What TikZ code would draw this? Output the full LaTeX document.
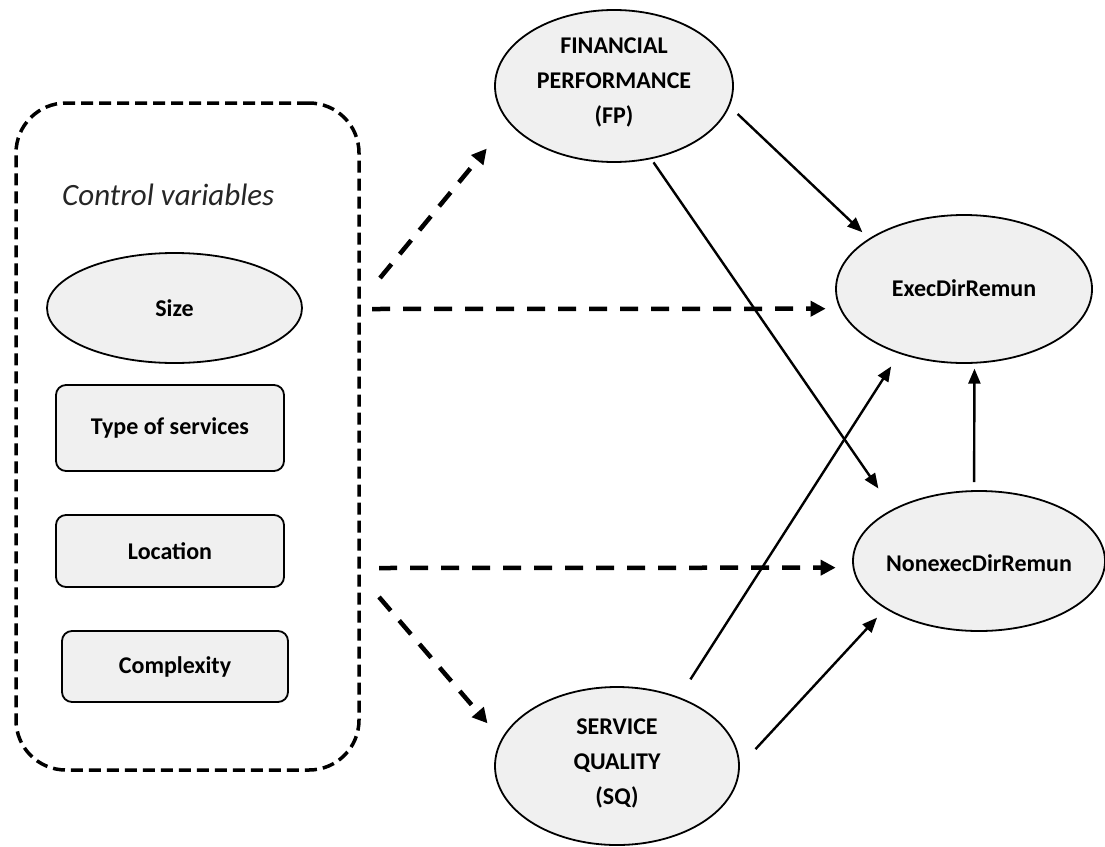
\documentclass[tikz,border=0pt]{standalone}
\usepackage{fontspec}
\setmainfont{Carlito}
\usetikzlibrary{shapes.geometric,arrows.meta}
\begin{document}
\begin{tikzpicture}[x=1pt,y=-1pt,
  ell/.style={ellipse,draw,line width=1.8pt,fill=gray!12,inner sep=0pt},
  box/.style={rectangle,rounded corners=10pt,draw,line width=1.8pt,fill=gray!12,inner sep=0pt,minimum width=228pt,font=\fontsize{24}{35}\selectfont\bfseries},
  lbl/.style={font=\fontsize{24}{35}\selectfont\bfseries,align=center,inner sep=0pt},
  solidarr/.style={line width=2.4pt,-{Triangle[length=15pt,width=12pt]}},
  dasharr/.style={line width=4.5pt,dash pattern=on 18pt off 13pt,-{Triangle[length=15pt,width=15pt]}},
]
\useasboundingbox (0,0) rectangle (1105,846);

% control variables frame
\node[draw,line width=3.5pt,dash pattern=on 12pt off 6pt,rounded corners=50pt,
      minimum width=343pt,minimum height=667pt,inner sep=0pt] (ctrl) at (187.5,436.5) {};
\node[font=\fontsize{31}{36}\selectfont\itshape,text=black!85,anchor=base west,inner sep=0pt] (cv) at (62,205) {Control variables};

\node[ell,minimum width=255pt,minimum height=110pt] (size) at (174.5,308) {};
\node[lbl] (sizet) at (size.center) {Size};
\node[box,minimum height=86pt] (type) at (170,428) {Type of services};
\node[box,minimum height=72pt] (loc) at (170,551) {Location};
\node[box,minimum width=226pt,minimum height=71pt] (cplx) at (175,666.5) {Complexity};

% main constructs
\node[ell,minimum width=238pt,minimum height=152pt] (FP) at (614,86) {};
\node[lbl] (FPt) at (614,82) {FINANCIAL\\PERFORMANCE\\(FP)};
\node[ell,minimum width=256pt,minimum height=148pt] (Exec) at (964,289) {};
\node[lbl] (Exect) at (964,288) {ExecDirRemun};
\node[ell,minimum width=252pt,minimum height=140pt] (Nonexec) at (979,561) {};
\node[lbl] (Nonexect) at (979,563) {NonexecDirRemun};
\node[ell,minimum width=244pt,minimum height=158pt] (SQ) at (617,766) {};
\node[lbl] (SQt) at (617,763) {SERVICE\\QUALITY\\(SQ)};

% dashed arrows from control variables
\coordinate (s1) at (380,278);
\coordinate (s2) at (372,309);
\coordinate (s3) at (379,568);
\coordinate (s4) at (379,597);
\draw[dasharr,shorten >=34pt] (s1) -- (FP.199.4);
\draw[dasharr,shorten >=14pt] (s2) -- (Exec.189.2);
\draw[dasharr,shorten >=17pt] (s3) -- (Nonexec.183.2);
\draw[dasharr,shorten >=21pt] (s4) -- (SQ.167.3);

% solid arrows
\draw[solidarr,shorten <=11pt,shorten >=9pt] (FP.-10.7) -- (Exec.152.1);
\draw[solidarr,shorten <=4pt,shorten >=25pt] (FP.-63.8) -- (Nonexec.149.8);
\draw[solidarr,shorten <=21pt,shorten >=15pt] (SQ.48) -- (Exec.225.7);
\draw[solidarr,shorten <=23pt,shorten >=12pt] (SQ.0.4) -- (Nonexec.207);
\draw[solidarr,shorten <=8pt,shorten >=5pt] (Nonexec.94.1) -- (Exec.-82.3);
\end{tikzpicture}
\end{document}
